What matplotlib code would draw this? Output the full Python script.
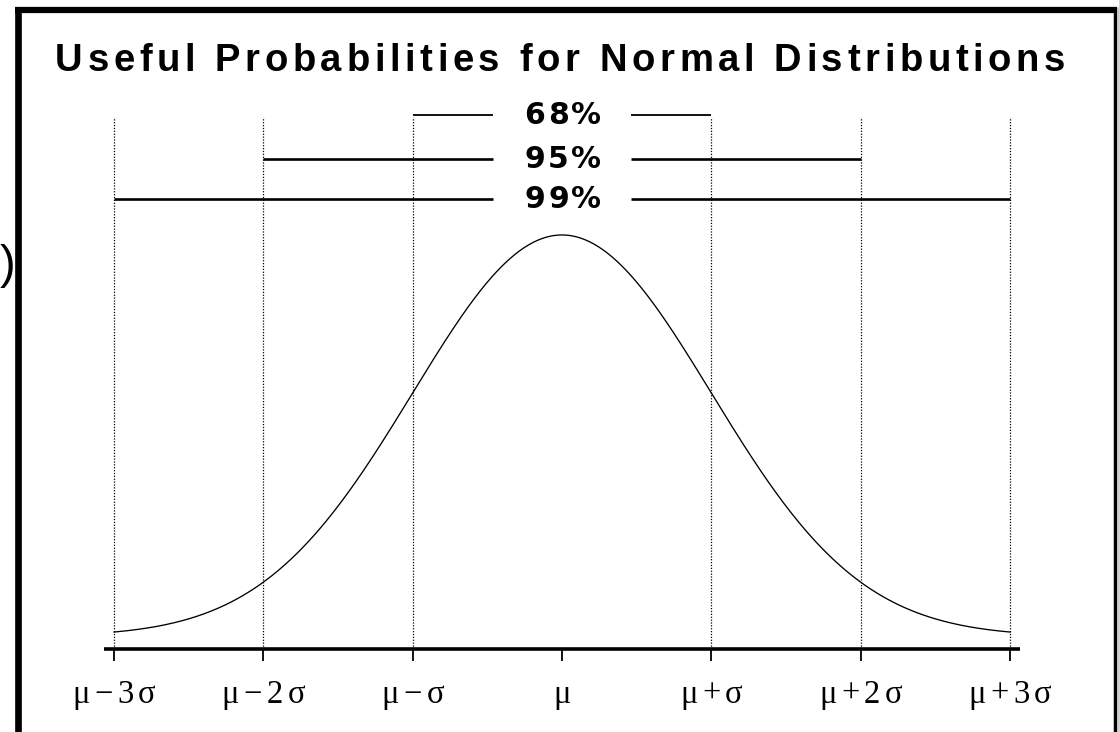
import numpy as np
import matplotlib
matplotlib.use("Agg")
import matplotlib.pyplot as plt
from matplotlib.lines import Line2D
from matplotlib.transforms import IdentityTransform

# ---- data ----
title = "Useful Probabilities for Normal Distributions"
sigma_positions = [-3, -2, -1, 0, 1, 2, 3]
tick_labels = ["μ−3σ", "μ−2σ", "μ−σ", "μ", "μ+σ", "μ+2σ", "μ+3σ"]
coverage_labels = ["68%", "95%", "99%"]
coverage_k = [1, 2, 3]
coverage_level = [0.518, 0.4744, 0.4347]   # heights of the bracket lines
dotted_sigmas = [-3, -2, -1, 1, 2, 3]
dotted_top = 0.516

W, H, DPI = 1119, 732, 100
fig = plt.figure(figsize=(W / DPI, H / DPI), dpi=DPI)
fig.patch.set_facecolor("white")
ax = fig.add_axes([0, 0, 1, 1])
ax.set_axis_off()

# pixel mapping: -3 -> 113 px, +3 -> 1009 px ; y: 0 -> 636.5 px, pdf(0) -> 235 px
px_per_sig = (1009 - 113) / 6.0
x0_px = 562.0
py_per_unit = 1006.5
y0_px = 636.5
ax.set_xlim(-x0_px / px_per_sig, (W - x0_px) / px_per_sig)
ax.set_ylim((y0_px - H) / py_per_unit, y0_px / py_per_unit)

# normal curve
xs = np.linspace(-3, 3, 600)
ys = np.exp(-xs ** 2 / 2) / np.sqrt(2 * np.pi)
ax.plot(xs, ys, color="black", lw=0.95)

axis_y = -12.5 / py_per_unit
# dotted verticals
for s in dotted_sigmas:
    ax.plot([s, s], [axis_y, dotted_top], color="black", lw=0.9,
            linestyle=(0, (1.0, 1.3)))

# x axis line
ax.plot([-3.07, 3.07], [axis_y, axis_y], color="black", lw=2.6, solid_capstyle="butt")
tick_len = 12 / py_per_unit
for s in sigma_positions:
    ax.plot([s, s], [axis_y, axis_y - tick_len], color="black", lw=1.3,
            solid_capstyle="butt")

# coverage brackets
gap = 0.46
for k, lvl in zip(coverage_k, coverage_level):
    lw = 1.3 if k == 1 else 1.9
    ax.plot([-k, -gap], [lvl, lvl], color="black", lw=lw, solid_capstyle="butt")
    ax.plot([gap, k], [lvl, lvl], color="black", lw=lw, solid_capstyle="butt")

fig.canvas.draw()
renderer = fig.canvas.get_renderer()


def char_width(ch, **kw):
    if ch == " ":
        a = fig.text(0, 0, "a a", **kw)
        b = fig.text(0, 0, "aa", **kw)
        w = a.get_window_extent(renderer).width - b.get_window_extent(renderer).width
        a.remove(); b.remove()
        return w
    t = fig.text(0, 0, ch, **kw)
    w = t.get_window_extent(renderer).width
    t.remove()
    return w


def spaced_text(s, cx_px, cy_px_from_top, target_w=None, track=None, **kw):
    widths = [char_width(c, **kw) for c in s]
    if track is None:
        track = (target_w - sum(widths)) / max(len(s) - 1, 1)
    total = sum(widths) + track * (len(s) - 1)
    x = cx_px - total / 2.0
    y = H - cy_px_from_top
    for c, w in zip(s, widths):
        if c != " ":
            fig.text(x, y, c, transform=IdentityTransform(), ha="left",
                     va="center_baseline", **kw)
        x += w + track


# title
bold = dict(fontsize=27.5, family="Liberation Sans", fontweight="bold")
spaced_text(title, 560, 57, target_w=1010, **bold)

# coverage labels
lab_kw = dict(fontsize=21.5, family="DejaVu Sans", fontweight="bold")
for lvl, lab in zip(coverage_level, coverage_labels):
    ypx = H - ax.transData.transform((0, lvl))[1] - 2.5
    spaced_text(lab, 563, ypx, target_w=77, **lab_kw)

# tick labels
tick_kw = dict(fontsize=23.5, family="Liberation Serif")
for s, lab in zip(sigma_positions, tick_labels):
    xpx = ax.transData.transform((s, 0))[0]
    spaced_text(lab, xpx, 691, track=4.5, **tick_kw)

# frame (partial border as in reference)
fig.add_artist(Line2D([18 / W, 18 / W], [0, 1 - 7 / H], color="black", lw=4.8,
                      transform=fig.transFigure, solid_capstyle="butt"))
fig.add_artist(Line2D([15 / W, 1117 / W], [1 - 10 / H, 1 - 10 / H], color="black", lw=4.5,
                      transform=fig.transFigure, solid_capstyle="butt"))
fig.add_artist(Line2D([1114.5 / W, 1114.5 / W], [0, 1 - 7 / H], color="black", lw=2.5,
                      transform=fig.transFigure, solid_capstyle="butt"))
fig.add_artist(Line2D([1118.5 / W, 1118.5 / W], [0, 1 - 7 / H], color="black", lw=1.0,
                      transform=fig.transFigure, solid_capstyle="butt"))
fig.text(0 / W, 1 - 266 / H, ")", ha="left", va="center", fontsize=34,
         family="Liberation Sans")

fig.savefig("out.png", dpi=DPI, facecolor="white")
